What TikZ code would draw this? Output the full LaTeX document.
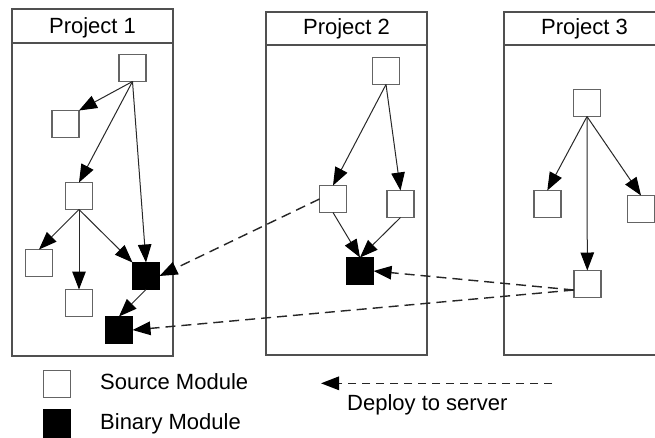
\documentclass[tikz,border=0pt]{standalone}
\usepackage{fontspec}
\setmainfont{Liberation Sans}
\usetikzlibrary{arrows.meta}
\definecolor{frame}{RGB}{80,80,80}
\definecolor{nodeedge}{RGB}{100,100,100}
\definecolor{wire}{RGB}{40,40,40}
\tikzset{
  src/.style={draw=nodeedge, line width=1.4pt, fill=white, minimum size=27pt, inner sep=0pt, outer sep=0pt},
  bin/.style={src, fill=black, draw=black},
  head/.style={-{Triangle[length=18pt,width=13.5pt,color=black]}},
  dep/.style={draw=wire, line width=1pt, head},
  deploy/.style={draw=black!85, line width=1.4pt, dash pattern=on 10pt off 6pt, head},
  projframe/.style={draw=frame, line width=1.5pt},
  header/.style={anchor=base, font=\fontsize{22}{26}\selectfont, inner sep=0pt},
  legendtext/.style={anchor=base west, font=\fontsize{22}{26}\selectfont, inner sep=0pt},
}
\begin{document}
\begin{tikzpicture}[x=1pt,y=-1pt]
\clip (0,0) rectangle (655,437);
\fill[white] (0,0) rectangle (655,437);

% project frames with header bars
\draw[projframe] (12,9) rectangle (173,356);
\draw[projframe] (12,43) -- (173,43);
\draw[projframe] (266,12) rectangle (427,355);
\draw[projframe] (266,45) -- (427,45);
\draw[projframe] (504,12) rectangle (665,355);
\draw[projframe] (504,45) -- (665,45);
\node[header] (h1) at (92.5,33.5) {Project 1};
\node[header] (h2) at (346.5,34) {Project 2};
\node[header] (h3) at (584.5,34) {Project 3};

% project 1 modules
\node[src] (a) at (132.5,68) {};
\node[src] (b) at (65.5,124) {};
\node[src] (c) at (79,196) {};
\node[src] (d) at (39,263) {};
\node[src] (e) at (79,303) {};
\node[bin] (f) at (146,276) {};
\node[bin] (g) at (119,330) {};

% project 2 modules
\node[src] (h) at (386,71) {};
\node[src] (i) at (333,199) {};
\node[src] (j) at (400.5,204) {};
\node[bin] (k) at (360,271) {};

% project 3 modules
\node[src] (l) at (587,103) {};
\node[src] (m) at (547.3,204) {};
\node[src] (n) at (641,209) {};
\node[src] (o) at (587.3,284) {};

% dependencies
\draw[dep] (a.south) -- (b.north east);
\draw[dep] (a.south) -- (c.north);
\draw[dep] (a.south) -- (f.north);
\draw[dep] (c.south) -- (d.north);
\draw[dep] (c.south) -- (e.north);
\draw[dep] (c.south) -- (f.north west);
\draw[dep] (f.south) -- (g.north);

\draw[dep] (h.south) -- (i.north);
\draw[dep] (h.south) -- (j.north);
\draw[dep] (i.south) -- (k.north);
\draw[dep] (j.south) -- (k.north);

\draw[dep] (l.south) -- (m.north);
\draw[dep] (l.south) -- (n.north);
\draw[dep] (l.south) -- (o.north);

% deployments
\coordinate (oport) at ([yshift=-6pt]o.west);
\draw[deploy] (i.west) -- (f.east);
\draw[deploy] (oport) -- (k.east);
\draw[deploy] (oport) -- (g.east);

% legend
\node[src] (lsrc) at (57,383.7) {};
\node[bin] (lbin) at (57,423.5) {};
\node[legendtext] (tsrc) at (100,389.3) {Source Module};
\node[legendtext] (tbin) at (100,429) {Binary Module};
\coordinate (lgfrom) at (552,383.3);
\coordinate (lgto) at (321,383.3);
\draw[deploy, dash pattern=on 8pt off 6pt] (lgfrom) -- (lgto);
\node[legendtext] (tdep) at (347,410) {Deploy to server};
\end{tikzpicture}
\end{document}
